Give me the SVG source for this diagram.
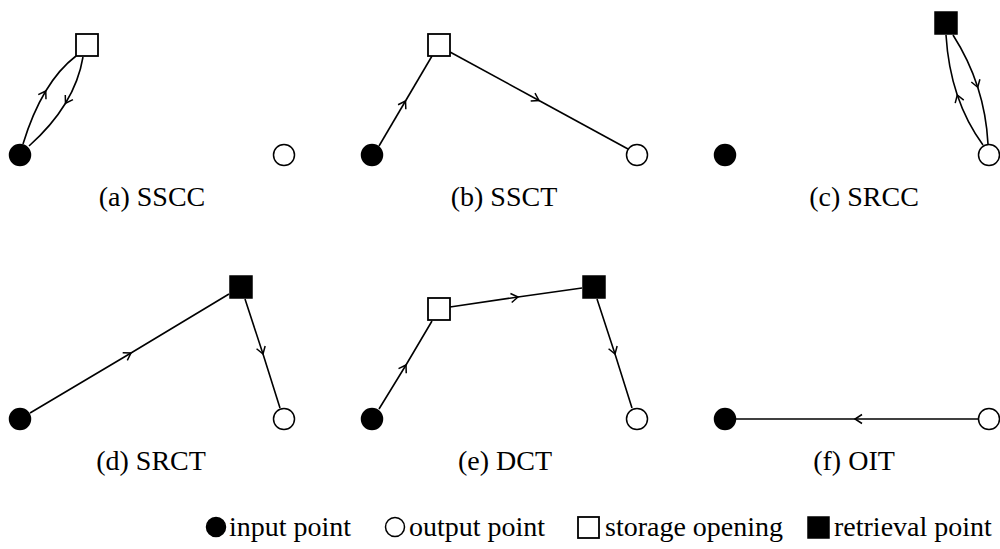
<svg xmlns="http://www.w3.org/2000/svg" width="1000" height="549" viewBox="0 0 1000 549">
<style>
.in{fill:#000;stroke:#000;stroke-width:1.5}
.out{fill:#fff;stroke:#000;stroke-width:1.5}
.so{fill:#fff;stroke:#000;stroke-width:1.8}
.rp{fill:#000;stroke:#000;stroke-width:1.5}
.e{fill:none;stroke:#000;stroke-width:1.6;marker-mid:url(#chev)}
text{font-family:"Liberation Serif","Times New Roman",serif;font-size:28px;fill:#000}
.cap{text-anchor:middle}
</style>
<defs>
<marker id="chev" markerUnits="userSpaceOnUse" markerWidth="16" markerHeight="16" refX="0" refY="0" viewBox="-8 -8 16 16" orient="auto" overflow="visible">
<path d="M-7,-4.5 L0,0 L-7,4.5" fill="none" stroke="#000" stroke-width="1.5"/>
</marker>
</defs>
<g id="connectors">
<path class="e" d="M23,144 Q32.5,113 45.75,91 Q59,69 76,56"/>
<path class="e" d="M83,57 Q79,81 65.5,103.25 Q52,125.5 29,146"/>
<polyline class="e" points="379,146 405.5,101 432,56"/>
<polyline class="e" points="450,52 539,100.5 628,149"/>
<path class="e" d="M983,145 Q966.5,122.5 957.25,95 Q948,67.5 946,35"/>
<path class="e" d="M953,35 Q969,60 977.75,87.25 Q986.5,114.5 988,144"/>
<polyline class="e" points="30,413 131,353 229,294"/>
<polyline class="e" points="245,299 263,354 280,408"/>
<polyline class="e" points="379,409 406,365 432,321"/>
<polyline class="e" points="450,307 518,297 582,288"/>
<polyline class="e" points="597,299 615,354 632,408"/>
<polyline class="e" points="978,419 855,419 736,419"/>
</g>
<g id="panel-a">
<circle id="a-input" class="in" cx="20" cy="155" r="10.5"/>
<rect id="a-storage" class="so" x="76" y="34" width="22" height="22"/>
<circle id="a-output" class="out" cx="284" cy="155" r="10.5"/>
<text class="cap" x="152" y="206">(a) SSCC</text>
</g>
<g id="panel-b">
<circle id="b-input" class="in" cx="372" cy="155" r="10.5"/>
<rect id="b-storage" class="so" x="428" y="34" width="22" height="22"/>
<circle id="b-output" class="out" cx="637" cy="155" r="10.5"/>
<text class="cap" x="504" y="206">(b) SSCT</text>
</g>
<g id="panel-c">
<circle id="c-input" class="in" cx="725" cy="155" r="10.5"/>
<rect id="c-retrieval" class="rp" x="935" y="12" width="22" height="22"/>
<circle id="c-output" class="out" cx="989" cy="155" r="10.5"/>
<text class="cap" x="864" y="206">(c) SRCC</text>
</g>
<g id="panel-d">
<circle id="d-input" class="in" cx="20" cy="419" r="10.5"/>
<rect id="d-retrieval" class="rp" x="230" y="276" width="22" height="22"/>
<circle id="d-output" class="out" cx="284" cy="419" r="10.5"/>
<text class="cap" x="151" y="470">(d) SRCT</text>
</g>
<g id="panel-e">
<circle id="e-input" class="in" cx="372" cy="419" r="10.5"/>
<rect id="e-storage" class="so" x="428" y="298" width="22" height="22"/>
<rect id="e-retrieval" class="rp" x="583" y="276" width="22" height="22"/>
<circle id="e-output" class="out" cx="637" cy="419" r="10.5"/>
<text class="cap" x="505" y="470">(e) DCT</text>
</g>
<g id="panel-f">
<circle id="f-input" class="in" cx="725" cy="419" r="10.5"/>
<circle id="f-output" class="out" cx="989" cy="419" r="10.5"/>
<text class="cap" x="854" y="470">(f) OIT</text>
</g>
<g id="legend">
<circle class="in" cx="216" cy="527" r="9.5"/>
<text x="229" y="536">input point</text>
<circle class="out" cx="395" cy="527" r="9.5"/>
<text x="409" y="536">output point</text>
<rect class="so" x="578" y="517" width="21" height="21"/>
<text x="605" y="536">storage opening</text>
<rect class="rp" x="808" y="517" width="21" height="21"/>
<text x="834" y="536">retrieval point</text>
</g>
</svg>
